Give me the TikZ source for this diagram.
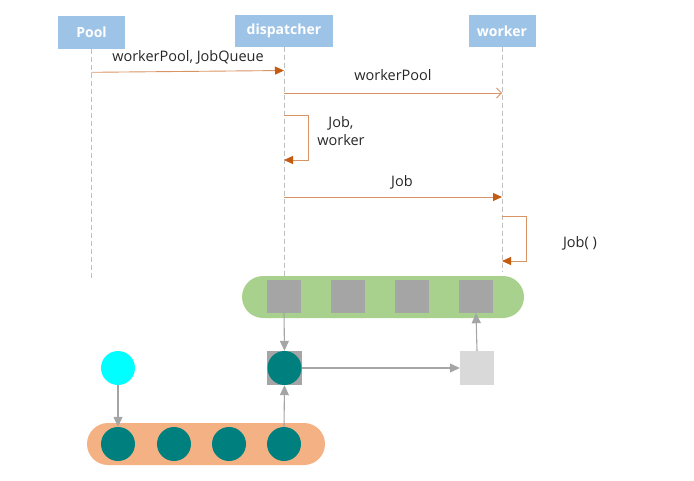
\documentclass[tikz,border=0pt]{standalone}
\usepackage{fontspec}
\setmainfont{Open Sans}
\usetikzlibrary{arrows.meta}
\definecolor{hdr}{HTML}{9DC3E6}
\definecolor{msg}{HTML}{C55A11}
\definecolor{grn}{HTML}{A9D18E}
\definecolor{org}{HTML}{F4B183}
\definecolor{gsq}{HTML}{A5A5A5}
\definecolor{lsq}{HTML}{D9D9D9}
\definecolor{teal2}{HTML}{007F7F}
\definecolor{cyan2}{HTML}{00FFFF}
\tikzset{
  hbox/.style={fill=hdr, text=white, font=\bfseries\fontsize{14}{16}\selectfont, inner sep=0pt, minimum height=33pt},
  life/.style={draw=gray!50, dashed, dash pattern=on 5pt off 3pt, line width=0.6pt},
  msgline/.style={draw=msg!65, line width=0.9pt},
  fhead/.style={-{Triangle[length=9pt,width=8pt,fill=msg,color=msg]}},
  ohead/.style={-{Straight Barb[length=5pt,width=10pt,line width=0.8pt]}},
  lbl/.style={font=\fontsize{14.5}{18}\selectfont, text=black!85, inner sep=0pt, align=center},
  gsquare/.style={fill=gsq, minimum width=34pt, minimum height=33pt, inner sep=0pt},
  tealc/.style={circle, fill=teal2, minimum size=34pt, inner sep=0pt},
  garrow/.style={draw=gsq, line width=1.1pt, -{Triangle[length=10pt,width=9pt]}},
}
\begin{document}
\begin{tikzpicture}[x=1pt,y=-1pt]
\useasboundingbox (0,0) rectangle (694,480);
% headers
\node[hbox, minimum width=67pt] (pool) at (91.5,32.5) {Pool};
\node[hbox, minimum width=98pt, minimum height=32pt] (disp) at (284,31) {dispatcher};
\node[hbox, minimum width=67pt, minimum height=32pt] (work) at (502,31) {worker};
% lifelines
\coordinate (poolend) at (91.5,280);
\coordinate (dispend) at (284,278);
\coordinate (workend) at (502,272);
\draw[life] (pool.south) -- (poolend);
\draw[life] (disp.south) -- (dispend);
\draw[life] (work.south) -- (workend);
% messages
\coordinate (m1a) at (91.5,72.3);
\coordinate (m1b) at (284,70.5);
\draw[msgline, fhead] (m1a) -- (m1b);
\node[lbl] (l1) at (188,57) {workerPool, JobQueue};

\coordinate (m2a) at (284,93);
\coordinate (m2b) at (502,93);
\draw[msgline, ohead] (m2a) -- (m2b);
\node[lbl] (l2) at (393,75) {workerPool};

\coordinate (s1a) at (284,115);
\coordinate (s1b) at (284,160);
\draw[msgline, fhead] (s1a) -- (308,115) -- (308,160) -- (s1b);
\node[lbl] (l3) at (341,131) {Job,\\worker};

\coordinate (m3a) at (284,197);
\coordinate (m3b) at (502,197);
\draw[msgline, fhead] (m3a) -- (m3b);
\node[lbl] (l4) at (402,182) {Job};

\coordinate (s2a) at (502,216);
\coordinate (s2b) at (502,261);
\draw[msgline, fhead] (s2a) -- (526,216) -- (526,261) -- (s2b);
\node[lbl] (l5) at (580,243) {Job( )};

% green queue
\node[fill=grn, rounded corners=21pt, minimum width=282pt, minimum height=42pt, inner sep=0pt] (green) at (383,297) {};
\node[gsquare] (q1) at (284,296.5) {};
\node[gsquare] (q2) at (348,296.5) {};
\node[gsquare] (q3) at (412,296.5) {};
\node[gsquare] (q4) at (476,296.5) {};
% middle row
\node[gsquare, minimum width=35pt, minimum height=34pt] (msq) at (284.5,368) {};
\node[tealc] (mc) at (284.5,368) {};
\node[fill=lsq, minimum width=34pt, minimum height=34pt, inner sep=0pt] (lsq) at (477,368) {};
\node[circle, fill=cyan2, minimum size=34pt, inner sep=0pt] (cy) at (118,368) {};
% orange bar
\node[fill=org, rounded corners=21pt, minimum width=238pt, minimum height=42pt, inner sep=0pt] (orange) at (206,444) {};
\node[tealc] (o1) at (118,444) {};
\node[tealc] (o2) at (174,444) {};
\node[tealc] (o3) at (229,444) {};
\node[tealc] (o4) at (284,444) {};
% gray arrows
\draw[garrow] (q1.south) -- (msq.north);
\draw[garrow] (cy.south) -- (o1.north);
\draw[garrow] (o4.north) -- (msq.south);
\draw[garrow] (msq.east) -- (lsq.west);
\draw[garrow] (lsq.north) -- (q4.south);
\end{tikzpicture}
\end{document}
